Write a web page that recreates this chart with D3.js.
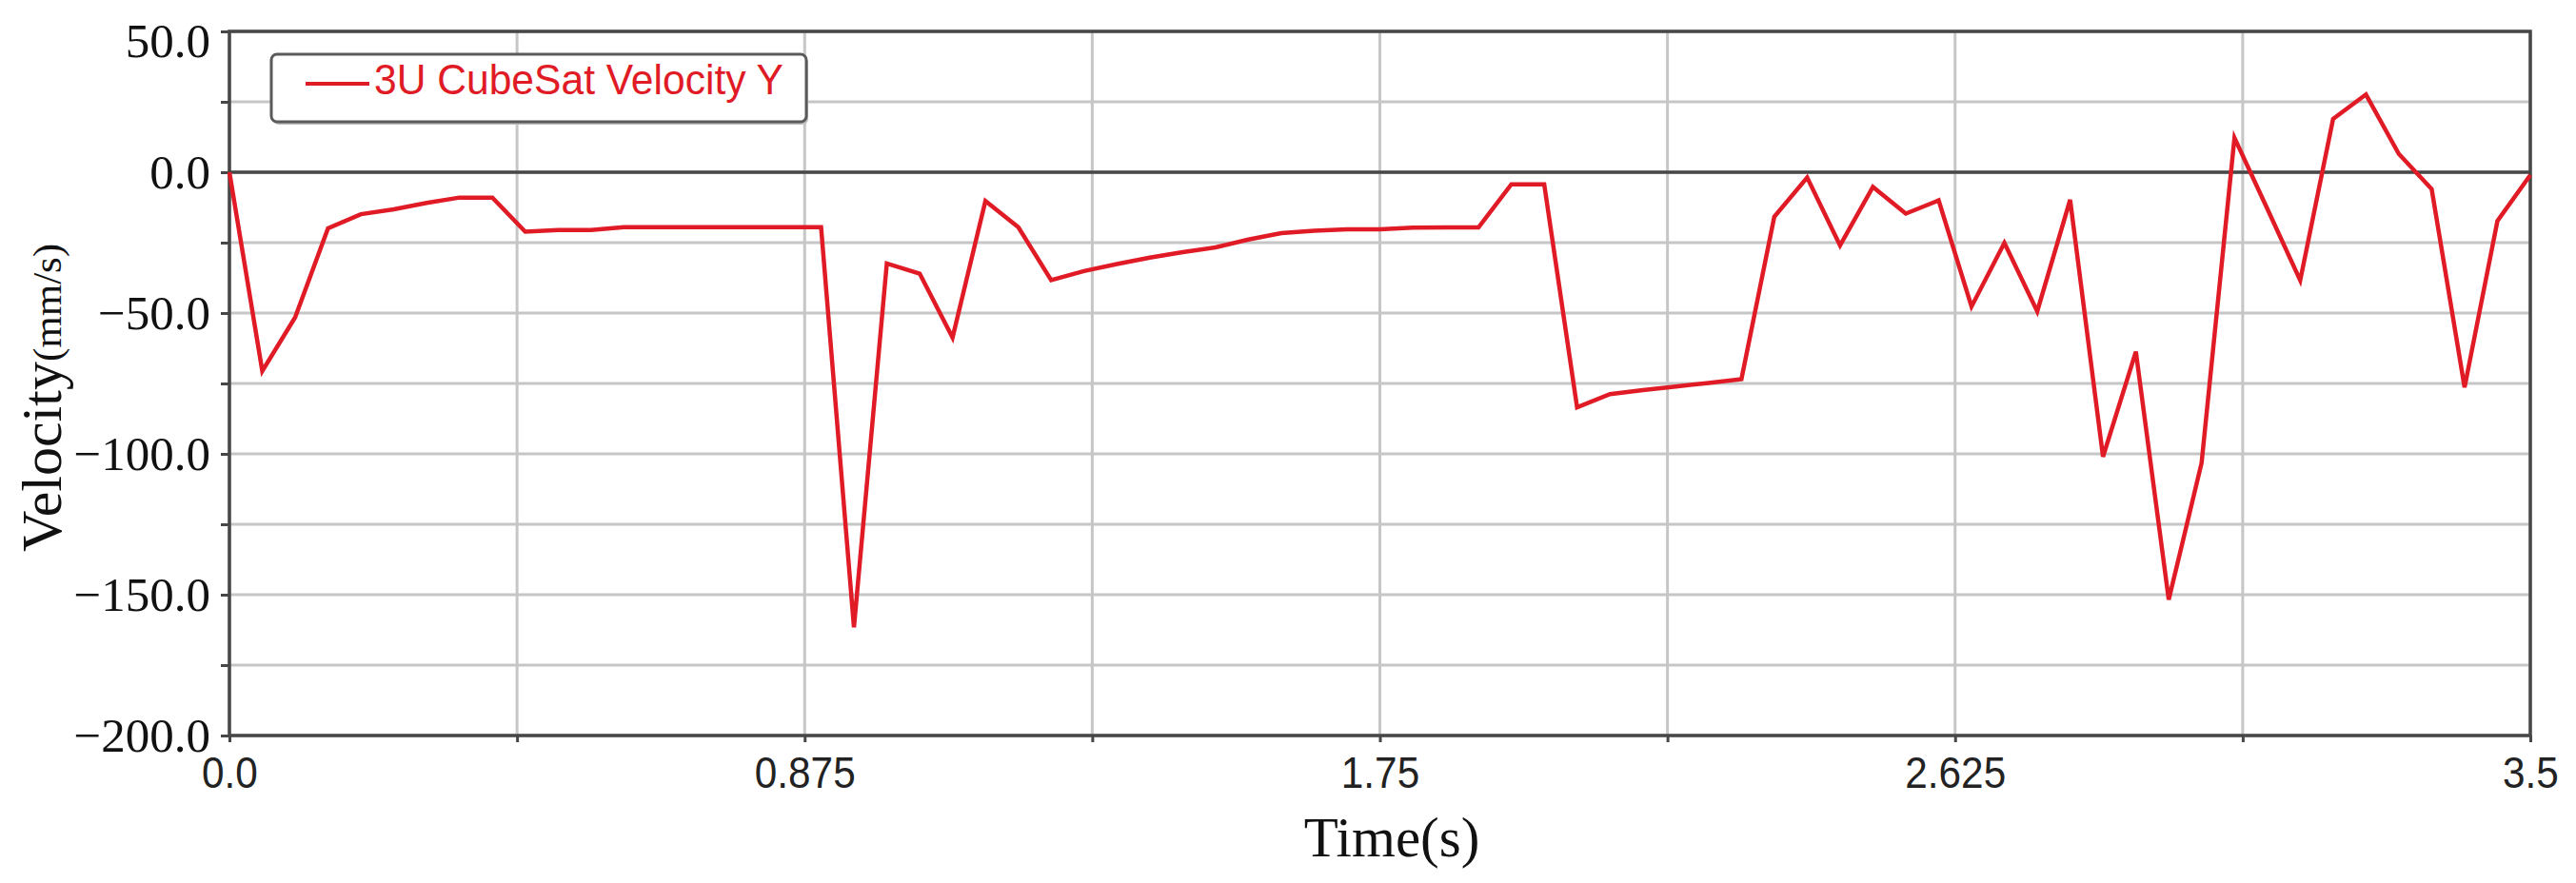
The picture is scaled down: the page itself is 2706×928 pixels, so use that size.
<!DOCTYPE html>
<html lang="en">
<head>
<meta charset="utf-8"/>
<title>3U CubeSat Velocity Y</title>
<script src="https://cdn.jsdelivr.net/npm/d3@7"></script>
<style>
  body { margin: 0; background: #fff; }
  svg { display: block; }
</style>
</head>
<body>
<svg id="chart" width="2706" height="928"></svg>
<script>
// samples, one every 0.05 s
const times = [0.00, 0.05, 0.10, 0.15, 0.20, 0.25, 0.30, 0.35, 0.40, 0.45,
               0.50, 0.55, 0.60, 0.65, 0.70, 0.75, 0.80, 0.85, 0.90, 0.95,
               1.00, 1.05, 1.10, 1.15, 1.20, 1.25, 1.30, 1.35, 1.40, 1.45,
               1.50, 1.55, 1.60, 1.65, 1.70, 1.75, 1.80, 1.85, 1.90, 1.95,
               2.00, 2.05, 2.10, 2.15, 2.20, 2.25, 2.30, 2.35, 2.40, 2.45,
               2.50, 2.55, 2.60, 2.65, 2.70, 2.75, 2.80, 2.85, 2.90, 2.95,
               3.00, 3.05, 3.10, 3.15, 3.20, 3.25, 3.30, 3.35, 3.40, 3.45, 3.50];
const velocityY = [0, -70.6, -51.5, -19.9, -14.9, -13.2, -10.9, -9.0, -9.0, -21.1,
                   -20.5, -20.5, -19.5, -19.5, -19.5, -19.5, -19.5, -19.5, -19.5, -161.6,
                   -32.4, -36.0, -58.7, -10.2, -19.5, -38.3, -35.1, -32.6, -30.3, -28.4,
                   -26.7, -23.9, -21.6, -20.8, -20.3, -20.3, -19.7, -19.6, -19.6, -4.3,
                   -4.3, -83.5, -78.8, -77.4, -76.1, -74.8, -73.5, -15.8, -1.9, -26.0,
                   -5.2, -14.7, -10.0, -47.7, -25.1, -49.4, -9.8, -101.0, -63.7, -151.8,
                   -103.2, 12.2, -13.0, -38.4, 18.9, 27.6, 6.5, -6.0, -76.4, -17.3, -1.0];

const seriesName = "3U CubeSat Velocity Y";
const xTicks = [0, 0.875, 1.75, 2.625, 3.5];
const xTickLabels = ["0.0", "0.875", "1.75", "2.625", "3.5"];
const xGrid = [0, 0.4375, 0.875, 1.3125, 1.75, 2.1875, 2.625, 3.0625, 3.5];
const yTicks = [50, 0, -50, -100, -150, -200];
const yGrid = [50, 25, 0, -25, -50, -75, -100, -125, -150, -175, -200];

const red = "#e01b25";
const dark = "#474747";
const svg = d3.select("#chart");

const x = d3.scaleLinear().domain([0, 3.5]).range([241, 2658]);
const y = d3.scaleLinear().domain([-200, 50]).range([773, 33]);

// grid
svg.append("g").selectAll("line.h").data(yGrid).join("line")
  .attr("class", "h")
  .attr("x1", x(0)).attr("x2", x(3.5))
  .attr("y1", d => y(d)).attr("y2", d => y(d))
  .attr("stroke", "#c6c6c6").attr("stroke-width", 3);
svg.append("g").selectAll("line.v").data(xGrid).join("line")
  .attr("class", "v")
  .attr("x1", d => x(d)).attr("x2", d => x(d))
  .attr("y1", y(50)).attr("y2", y(-200))
  .attr("stroke", "#c6c6c6").attr("stroke-width", 3);

// zero line + frame
svg.append("line")
  .attr("x1", x(0)).attr("x2", x(3.5))
  .attr("y1", y(0)).attr("y2", y(0))
  .attr("stroke", dark).attr("stroke-width", 3.5);
svg.append("rect")
  .attr("x", x(0)).attr("y", y(50))
  .attr("width", x(3.5) - x(0)).attr("height", y(-200) - y(50))
  .attr("fill", "none").attr("stroke", dark).attr("stroke-width", 3.5);

// y axis
const fmtY = d3.format(".1f");
const yAxis = svg.append("g")
  .attr("transform", `translate(${x(0)},0)`)
  .call(d3.axisLeft(y).tickValues(yGrid).tickSize(9).tickPadding(11)
    .tickFormat(d => yTicks.includes(d) ? fmtY(d) : ""));
yAxis.select(".domain").remove();
yAxis.selectAll(".tick line").attr("stroke", dark).attr("stroke-width", 3);
yAxis.selectAll(".tick text")
  .attr("font-family", "'Liberation Serif', 'Times New Roman', serif")
  .attr("font-size", 51).attr("fill", "#111")
  .filter(d => d === 50).attr("dy", "0.52em");

// x axis
const xAxis = svg.append("g")
  .attr("transform", `translate(0,${y(-200)})`)
  .call(d3.axisBottom(x).tickValues(xGrid).tickSize(7).tickPadding(15)
    .tickFormat(d => {
      const i = xTicks.indexOf(d);
      return i >= 0 ? xTickLabels[i] : "";
    }));
xAxis.select(".domain").remove();
xAxis.selectAll(".tick line").attr("stroke", dark).attr("stroke-width", 3);
xAxis.selectAll(".tick text")
  .attr("font-family", "'Liberation Sans', Arial, sans-serif")
  .attr("font-size", 47).attr("fill", "#222")
  .attr("transform", "scale(0.9,1)");

// series
const points = times.map((t, i) => [t, velocityY[i]]);
svg.append("path")
  .datum(points)
  .attr("fill", "none")
  .attr("stroke", red)
  .attr("stroke-width", 4.5)
  .attr("stroke-linejoin", "miter")
  .attr("d", d3.line().x(d => x(d[0])).y(d => y(d[1])));

// legend
const legend = svg.append("g");
legend.append("rect")
  .attr("x", 287).attr("y", 60).attr("width", 562).attr("height", 71).attr("rx", 6)
  .attr("fill", "#bdbdbd");
legend.append("rect")
  .attr("x", 285).attr("y", 57).attr("width", 562).attr("height", 71).attr("rx", 6)
  .attr("fill", "#fff").attr("stroke", "#5a5a5a").attr("stroke-width", 3);
legend.append("line")
  .attr("x1", 321).attr("x2", 388).attr("y1", 88).attr("y2", 88)
  .attr("stroke", red).attr("stroke-width", 4);
legend.append("text")
  .attr("x", 393).attr("y", 99)
  .attr("font-family", "'Liberation Sans', Arial, sans-serif")
  .attr("font-size", 45).attr("fill", red)
  .attr("textLength", 430).attr("lengthAdjust", "spacingAndGlyphs")
  .text(seriesName);

// axis titles
svg.append("text")
  .attr("x", 1462).attr("y", 900)
  .attr("text-anchor", "middle")
  .attr("font-family", "'Liberation Serif', 'Times New Roman', serif")
  .attr("font-size", 59).attr("fill", "#111")
  .text("Time(s)");

const yTitle = svg.append("text")
  .attr("transform", "translate(64,580) rotate(-90)")
  .attr("font-family", "'Liberation Serif', 'Times New Roman', serif")
  .attr("fill", "#111");
yTitle.append("tspan").attr("font-size", 60).text("Velocity");
yTitle.append("tspan").attr("font-size", 43).text("(mm/s)");
</script>
</body>
</html>
